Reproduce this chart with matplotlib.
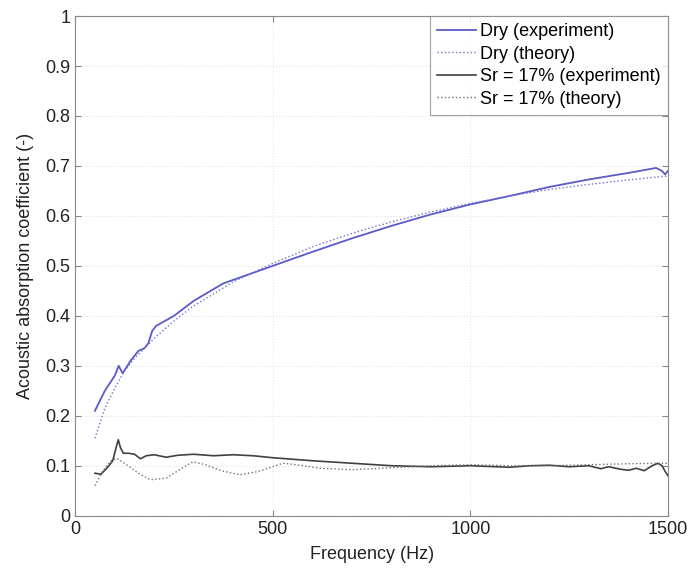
import matplotlib.pyplot as plt
import numpy as np

plt.rcParams['font.family'] = ['Liberation Sans', 'DejaVu Sans']

# Dry, experiment
dry_exp_f = [50, 75, 100, 110, 120, 140, 160, 175, 185, 195, 205, 250, 300, 375, 500, 600, 700, 800, 900,
             1000, 1100, 1200, 1300, 1400, 1470, 1485, 1493, 1500]
dry_exp_a = [0.21, 0.25, 0.28, 0.30, 0.285, 0.31, 0.33, 0.335, 0.345, 0.37, 0.38, 0.40, 0.43, 0.465, 0.50,
             0.528, 0.555, 0.58, 0.603, 0.623, 0.64, 0.658, 0.673, 0.686, 0.696, 0.69, 0.683, 0.69]

# Dry, theory
dry_th_f = [50, 75, 100, 125, 150, 200, 250, 300, 400, 500, 600, 700, 800, 900, 1000, 1100, 1200, 1300, 1400, 1500]
dry_th_a = [0.155, 0.215, 0.255, 0.29, 0.315, 0.355, 0.39, 0.42, 0.468, 0.505, 0.538, 0.565, 0.588, 0.608,
            0.625, 0.64, 0.653, 0.663, 0.672, 0.68]

# Sr = 17%, experiment
sr_exp_f = [50, 65, 80, 95, 103, 109, 115, 122, 135, 150, 165, 180, 200, 230, 260, 300, 350, 400, 450, 500,
            600, 700, 800, 900, 1000, 1100, 1150, 1200, 1250, 1300, 1330, 1350, 1380, 1400, 1420, 1440,
            1460, 1475, 1485, 1492, 1500]
sr_exp_a = [0.085, 0.083, 0.095, 0.11, 0.135, 0.152, 0.135, 0.125, 0.125, 0.123, 0.114, 0.12, 0.122, 0.117,
            0.121, 0.123, 0.12, 0.122, 0.12, 0.116, 0.11, 0.105, 0.1, 0.098, 0.1, 0.097, 0.1, 0.101, 0.098,
            0.1, 0.094, 0.098, 0.093, 0.091, 0.095, 0.09, 0.1, 0.105, 0.1, 0.09, 0.08]

# Sr = 17%, theory
sr_th_f = [50, 70, 90, 105, 130, 160, 190, 230, 270, 298, 330, 370, 417, 460, 500, 526, 560, 620, 700, 800,
           900, 1000, 1100, 1200, 1300, 1400, 1500]
sr_th_a = [0.06, 0.09, 0.11, 0.115, 0.102, 0.085, 0.072, 0.075, 0.095, 0.108, 0.102, 0.09, 0.082, 0.088,
           0.098, 0.105, 0.102, 0.095, 0.092, 0.096, 0.1, 0.102, 0.1, 0.1, 0.102, 0.104, 0.105]

blue = '#5a5ac8'
dark = '#404040'

fig = plt.figure(figsize=(6.9, 5.73), dpi=100)
ax = fig.add_axes([0.109, 0.100, 0.859, 0.872])

ax.plot(dry_exp_f, dry_exp_a, color=blue, lw=1.3, label='Dry (experiment)')
ax.plot(dry_th_f, dry_th_a, color='#7070d0', lw=1.0, ls=':', label='Dry (theory)')
ax.plot(sr_exp_f, sr_exp_a, color=dark, lw=1.2, label='Sr = 17% (experiment)')
ax.plot(sr_th_f, sr_th_a, color='#707070', lw=1.0, ls=':', label='Sr = 17% (theory)')

ax.set_xlim(0, 1500)
ax.set_ylim(0, 1)
ax.set_xticks([0, 500, 1000, 1500])
ax.set_yticks(np.arange(0, 1.01, 0.1))
ax.set_yticklabels(['0', '0.1', '0.2', '0.3', '0.4', '0.5', '0.6', '0.7', '0.8', '0.9', '1'])
ax.grid(True, color='#e4e4e4', ls=':', lw=0.8)
ax.tick_params(direction='in', labelsize=13, colors='#222222', length=4,
               top=True, right=True)
ax.tick_params(axis='both', color='#888888')
for s in ax.spines.values():
    s.set_color('#888888')

ax.set_xlabel('Frequency (Hz)', fontsize=13, color='#222222', labelpad=6)
ax.set_ylabel('Acoustic absorption coefficient (-)', fontsize=13, color='#222222', labelpad=8)

leg = ax.legend(loc='upper right', fontsize=13, frameon=True, fancybox=False,
                borderaxespad=0.0, handlelength=2.2, handletextpad=0.2,
                labelspacing=0.3, borderpad=0.4)
leg.get_frame().set_edgecolor('#888888')
leg.get_frame().set_linewidth(0.8)

plt.savefig('out.png')
